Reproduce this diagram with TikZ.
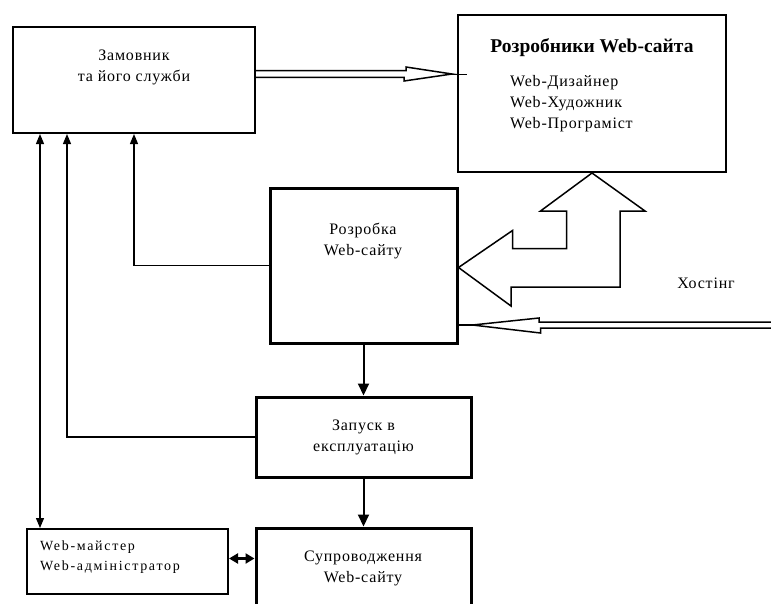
\documentclass[tikz,border=0pt]{standalone}
\usepackage{fontspec}
\setmainfont{Liberation Serif}
\usetikzlibrary{arrows.meta}

\tikzset{
  box/.style={draw, line width=2pt, inner sep=0pt},
  heavybox/.style={box, line width=3pt},
  txt/.style={inner sep=0pt, align=center,
    font=\fontsize{16}{21}\selectfont\addfontfeatures{LetterSpace=5}},
  link/.style={line width=1.2pt, ->},
  flow/.style={line width=2pt, -{Triangle[length=12pt,width=11pt]}},
  hollow/.style={line width=1.5pt, line join=miter},
}

\begin{document}
\begin{tikzpicture}[x=1pt,y=-1pt,>={Triangle[length=10pt,width=8pt]}]
  \clip (0,0) rectangle (771,603);
  \fill[white] (0,0) rectangle (771,603);

  % boxes
  \node[box, minimum width=242pt, minimum height=106pt] (zam) at (134,80) {};
  \node[box, minimum width=268pt, minimum height=157pt] (dev) at (592,93.5) {};
  \node[heavybox, minimum width=187pt, minimum height=155pt] (rozr) at (363.5,265.5) {};
  \node[heavybox, minimum width=215pt, minimum height=80pt] (zap) at (363.5,437) {};
  \node[heavybox, minimum width=215pt, minimum height=100pt] (sup) at (363.5,578) {};
  \node[box, minimum width=201pt, minimum height=65pt] (wm) at (127.5,561.5) {};

  % texts
  \node[txt] (zamt) at (134,67.5) {Замовник\\та його служби};
  \node[txt, font=\fontsize{19.5}{22}\selectfont\bfseries] (devt) at (592,48) {Розробники Web-сайта};
  \node[txt, align=left, anchor=west] (devl) at (510,104) {Web-Дизайнер\\Web-Художник\\Web-Програміст};
  \node[txt] (rozrt) at (363,240.5) {Розробка\\Web-сайту};
  \node[txt] (zapt) at (zap) {Запуск в\\експлуатацію};
  \node[txt] (supt) at (363,568.5) {Супроводження\\Web-сайту};
  \node[txt, align=left, anchor=west,
    font=\fontsize{14}{20}\selectfont\addfontfeatures{LetterSpace=12}] (wmt) at (40,557) {Web-майстер\\Web-адміністратор};
  \node[txt] (host) at (706,283) {Хостінг};

  % connectors
  \draw[link] (rozr.west) -| (zam.south);
  \draw[link] (zap.west) -| ([xshift=55pt]zam.south west);
  \draw[link, <->] ([xshift=14pt]wm.north west) -- ([xshift=14pt]wm.north west |- zam.south);
  \draw[flow] (rozr.south) -- (zap.north);
  \draw[flow] (zap.south) -- (sup.north);
  \draw[line width=2.5pt, <->, >={Triangle[length=9pt,width=10pt]}] ([yshift=3pt]wm.east) -- ([yshift=3pt]wm.east -| sup.west);

  % hollow arrows
  \coordinate (za) at ([yshift=6pt]zam.east);
  \draw[hollow] (za) ++(0,-3.3) -- ++(150,0) -- ++(0,-3.7) -- ([xshift=-5pt]dev.west |- za)
    -- ++(-48,7) -- ++(0,-3.7) -- ++(-150,0);
  \draw[line width=1pt] ([xshift=-5pt]dev.west |- za) -- ++(15,0);

  \coordinate (hs) at (771,325);
  \draw[hollow] (hs) ++(0,-3) -- ++(-232,0) -- ++(0,-4) -- ([xshift=14pt]rozr.east |- hs)
    -- ++(68,8) -- ++(0,-5) -- ++(232,0);
  \draw[line width=2.5pt] (rozr.east |- hs) -- ++(14,0);

  \draw[hollow] (dev.south) -- ++(53,38) -- ++(-25,0) -- ++(0,76) -- ++(-109,0) -- ++(0,19)
    -- ([yshift=-2pt]rozr.east) -- ++(54,-37) -- ++(0,18) -- ++(54,0) -- ++(0,-37.5)
    -- ++(-26,0) -- cycle;
\end{tikzpicture}
\end{document}
